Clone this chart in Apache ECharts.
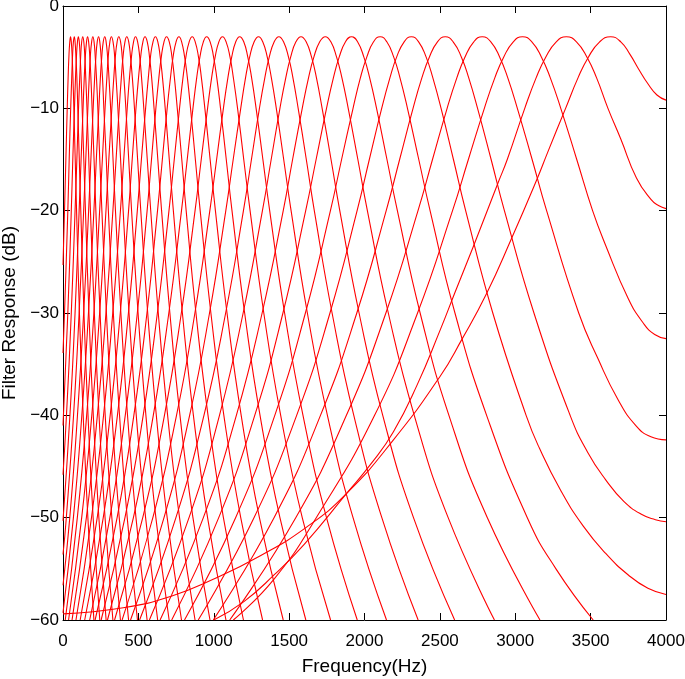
<!DOCTYPE html>
<html>
<head>
<meta charset="utf-8">
<script src="https://cdn.jsdelivr.net/npm/echarts@6/dist/echarts.min.js"></script>
<style>
html,body{margin:0;padding:0;background:#fff;}
#chart{width:685px;height:679px;}
</style>
</head>
<body>
<div id="chart"></div>
<script>
// Peak (centre) frequencies of the 32 filters (Hz)
const centerFreqs = [3633, 3339, 3048, 2781, 2536, 2311, 2104, 1914, 1740, 1579, 1432, 1297, 1172, 1058, 953, 857,
  769, 687, 613, 544, 481, 423, 370, 321, 277, 236, 198, 163, 131, 102, 75, 50];

const xTicks = [0, 500, 1000, 1500, 2000, 2500, 3000, 3500, 4000];
const yTicks = [0, -10, -20, -30, -40, -50, -60];

// Each filter: [frequency Hz, response dB] read/
const ch01 = [[0,-59.4],[400,-58.8],[713,-57.7],[1000,-56.0],[1300,-53.8],[1618,-50.9],[1883,-47.6],[2192,-42.4],[2501,-36.2],[2645,-32.6],[2810,-28.1],[2976,-22.7],[3142,-17.0],[3215,-14.3],[3334,-10],[3417,-7],[3485,-5],[3560,-3.5],[3633,-3],[3700,-3.5],[3760,-4.7],[3820,-6.2],[3880,-7.6],[3940,-8.7],[4000,-9.2]];
const ch02 = [[1000,-60],[1200,-58.2],[1400,-55.6],[1600,-52.6],[1883,-47.6],[2040,-44.8],[2192,-41.6],[2350,-37.0],[2501,-31.7],[2600,-28.0],[2722,-23.5],[2888,-17.2],[2947,-15],[3063,-10],[3139,-7],[3202,-5],[3272,-3.5],[3339,-3],[3406,-3.5],[3476,-5],[3539,-7],[3615,-10],[3700,-13.0],[3804,-16.8],[3900,-18.9],[3950,-19.5],[4000,-19.8]];
const ch03 = [[1130,-60],[1400,-56],[1680,-50],[2067,-40],[2352,-30],[2584,-20],[2689,-15],[2795,-10],[2865,-7],[2923,-5],[2987,-3.5],[3048,-3],[3110,-3.5],[3174,-5],[3232,-7],[3302,-10],[3408,-15],[3513,-20],[3600,-23.4],[3750,-28.6],[3850,-31.0],[3925,-32.1],[4000,-32.5]];
const ch04 = [[1106,-60],[1544,-50],[1880,-40],[2142,-30],[2355,-20],[2451,-15],[2548,-10],[2613,-7],[2666,-5],[2725,-3.5],[2781,-3],[2838,-3.5],[2897,-5],[2950,-7],[3014,-10],[3112,-15],[3208,-20],[3421,-30],[3550,-34.5],[3683,-38.5],[3800,-41.0],[3900,-42.1],[4000,-42.4]];
const ch05 = [[997,-60],[1400,-50],[1708,-40],[1949,-30],[2144,-20],[2233,-15],[2322,-10],[2381,-7],[2430,-5],[2484,-3.5],[2536,-3],[2588,-3.5],[2643,-5],[2691,-7],[2750,-10],[2840,-15],[2928,-20],[3124,-30],[3364,-40],[3480,-43.6],[3600,-46.3],[3720,-48.4],[3840,-49.7],[3930,-50.2],[4000,-50.4]];
const ch06 = [[897,-60],[1267,-50],[1550,-40],[1771,-30],[1951,-20],[2032,-15],[2114,-10],[2169,-7],[2213,-5],[2263,-3.5],[2311,-3],[2359,-3.5],[2409,-5],[2453,-7],[2508,-10],[2590,-15],[2671,-20],[2851,-30],[3072,-40],[3160,-43.2],[3300,-47.3],[3450,-50.8],[3600,-53.5],[3750,-55.6],[3880,-56.9],[4000,-57.5]];
const ch07 = [[806,-60],[1145,-50],[1405,-40],[1608,-30],[1774,-20],[1848,-15],[1924,-10],[1973,-7],[2015,-5],[2060,-3.5],[2104,-3],[2148,-3.5],[2194,-5],[2235,-7],[2285,-10],[2360,-15],[2435,-20],[2600,-30],[2810,-40],[3080,-50],[3270,-55],[3517,-60]];
const ch08 = [[721,-60],[1033,-50],[1272,-40],[1459,-30],[1610,-20],[1679,-15],[1748,-10],[1794,-7],[1832,-5],[1874,-3.5],[1914,-3],[1954,-3.5],[1996,-5],[2034,-7],[2080,-10],[2149,-15],[2218,-20],[2369,-30],[2560,-40],[2815,-50],[3164,-60]];
const ch09 = [[644,-60],[931,-50],[1150,-40],[1321,-30],[1461,-20],[1523,-15],[1587,-10],[1629,-7],[1664,-5],[1703,-3.5],[1740,-3],[1777,-3.5],[1815,-5],[1850,-7],[1892,-10],[1956,-15],[2019,-20],[2158,-30],[2330,-40],[2555,-50],[2862,-60]];
const ch10 = [[573,-60],[836,-50],[1038,-40],[1195,-30],[1323,-20],[1381,-15],[1439,-10],[1478,-7],[1510,-5],[1545,-3.5],[1579,-3],[1613,-3.5],[1649,-5],[1681,-7],[1719,-10],[1778,-15],[1836,-20],[1964,-30],[2121,-40],[2325,-50],[2598,-60]];
const ch11 = [[508,-60],[749,-50],[935,-40],[1079,-30],[1197,-20],[1250,-15],[1303,-10],[1339,-7],[1368,-5],[1401,-3.5],[1432,-3],[1463,-3.5],[1496,-5],[1525,-7],[1560,-10],[1614,-15],[1667,-20],[1785,-30],[1929,-40],[2115,-50],[2356,-60]];
const ch12 = [[448,-60],[670,-50],[840,-40],[972,-30],[1080,-20],[1129,-15],[1179,-10],[1211,-7],[1238,-5],[1268,-3.5],[1297,-3],[1325,-3.5],[1355,-5],[1382,-7],[1415,-10],[1464,-15],[1513,-20],[1621,-30],[1754,-40],[1924,-50],[2146,-60]];
const ch13 = [[392,-60],[596,-50],[753,-40],[875,-30],[974,-20],[1019,-15],[1064,-10],[1094,-7],[1119,-5],[1146,-3.5],[1172,-3],[1199,-3.5],[1226,-5],[1251,-7],[1281,-10],[1326,-15],[1371,-20],[1470,-30],[1592,-40],[1748,-50],[1952,-60]];
const ch14 = [[342,-60],[529,-50],[673,-40],[785,-30],[876,-20],[917,-15],[959,-10],[986,-7],[1009,-5],[1034,-3.5],[1058,-3],[1082,-3.5],[1108,-5],[1130,-7],[1158,-10],[1199,-15],[1241,-20],[1332,-30],[1444,-40],[1587,-50],[1775,-60]];
const ch15 = [[295,-60],[467,-50],[599,-40],[702,-30],[786,-20],[824,-15],[862,-10],[887,-7],[908,-5],[931,-3.5],[953,-3],[976,-3.5],[999,-5],[1020,-7],[1045,-10],[1083,-15],[1121,-20],[1205,-30],[1307,-40],[1439,-50],[1611,-60]];
const ch16 = [[253,-60],[411,-50],[532,-40],[626,-30],[703,-20],[738,-15],[773,-10],[796,-7],[815,-5],[837,-3.5],[857,-3],[877,-3.5],[899,-5],[918,-7],[941,-10],[976,-15],[1011,-20],[1088,-30],[1182,-40],[1303,-50],[1461,-60]];
const ch17 = [[213,-60],[359,-50],[470,-40],[557,-30],[627,-20],[659,-15],[691,-10],[713,-7],[730,-5],[750,-3.5],[769,-3],[787,-3.5],[807,-5],[825,-7],[846,-10],[878,-15],[910,-20],[981,-30],[1067,-40],[1179,-50],[1324,-60]];
const ch18 = [[177,-60],[311,-50],[413,-40],[493,-30],[558,-20],[587,-15],[616,-10],[636,-7],[652,-5],[670,-3.5],[687,-3],[705,-3.5],[723,-5],[739,-7],[758,-10],[788,-15],[817,-20],[882,-30],[962,-40],[1064,-50],[1197,-60]];
const ch19 = [[144,-60],[267,-50],[361,-40],[434,-30],[493,-20],[520,-15],[548,-10],[566,-7],[580,-5],[597,-3.5],[613,-3],[629,-3.5],[645,-5],[660,-7],[678,-10],[705,-15],[732,-20],[792,-30],[865,-40],[959,-50],[1081,-60]];
const ch20 = [[114,-60],[227,-50],[313,-40],[380,-30],[435,-20],[459,-15],[484,-10],[501,-7],[515,-5],[530,-3.5],[544,-3],[559,-3.5],[574,-5],[588,-7],[604,-10],[629,-15],[654,-20],[709,-30],[776,-40],[862,-50],[975,-60]];
const ch21 = [[86,-60],[189,-50],[269,-40],[330,-30],[381,-20],[403,-15],[426,-10],[441,-7],[454,-5],[468,-3.5],[481,-3],[495,-3.5],[509,-5],[521,-7],[536,-10],[559,-15],[582,-20],[632,-30],[694,-40],[773,-50],[876,-60]];
const ch22 = [[60,-60],[155,-50],[228,-40],[285,-30],[331,-20],[352,-15],[373,-10],[387,-7],[398,-5],[411,-3.5],[423,-3],[436,-3.5],[448,-5],[460,-7],[474,-10],[495,-15],[516,-20],[562,-30],[619,-40],[691,-50],[786,-60]];
const ch23 = [[37,-60],[124,-50],[191,-40],[243,-30],[285,-20],[304,-15],[324,-10],[337,-7],[347,-5],[359,-3.5],[370,-3],[382,-3.5],[393,-5],[404,-7],[417,-10],[436,-15],[455,-20],[498,-30],[550,-40],[616,-50],[704,-60]];
const ch24 = [[15,-60],[95,-50],[157,-40],[205,-30],[243,-20],[261,-15],[279,-10],[291,-7],[300,-5],[311,-3.5],[321,-3],[332,-3.5],[343,-5],[352,-7],[364,-10],[382,-15],[399,-20],[438,-30],[486,-40],[548,-50],[628,-60]];
const ch25 = [[0,-59.3],[69,-50],[125,-40],[169,-30],[205,-20],[221,-15],[238,-10],[248,-7],[257,-5],[267,-3.5],[277,-3],[286,-3.5],[296,-5],[305,-7],[316,-10],[332,-15],[348,-20],[384,-30],[428,-40],[484,-50],[558,-60]];
const ch26 = [[0,-56.6],[45,-50],[96,-40],[137,-30],[170,-20],[185,-15],[200,-10],[210,-7],[218,-5],[227,-3.5],[236,-3],[244,-3.5],[253,-5],[262,-7],[271,-10],[287,-15],[301,-20],[334,-30],[375,-40],[426,-50],[494,-60]];
const ch27 = [[0,-53.6],[22,-50],[70,-40],[107,-30],[137,-20],[151,-15],[165,-10],[174,-7],[181,-5],[190,-3.5],[198,-3],[206,-3.5],[214,-5],[222,-7],[231,-10],[244,-15],[258,-20],[288,-30],[325,-40],[373,-50],[435,-60]];
const ch28 = [[0,-50.3],[46,-40],[80,-30],[107,-20],[120,-15],[133,-10],[141,-7],[148,-5],[156,-3.5],[163,-3],[170,-3.5],[178,-5],[185,-7],[193,-10],[206,-15],[218,-20],[246,-30],[280,-40],[324,-50],[381,-60]];
const ch29 = [[0,-45.8],[23,-40],[55,-30],[80,-20],[92,-15],[103,-10],[111,-7],[117,-5],[124,-3.5],[131,-3],[138,-3.5],[145,-5],[151,-7],[159,-10],[171,-15],[182,-20],[208,-30],[239,-40],[279,-50],[331,-60]];
const ch30 = [[0,-41],[32,-30],[55,-20],[65,-15],[76,-10],[83,-7],[89,-5],[96,-3.5],[102,-3],[108,-3.5],[114,-5],[120,-7],[127,-10],[138,-15],[149,-20],[172,-30],[201,-40],[238,-50],[286,-60]];
const ch31 = [[0,-33.9],[10,-30],[32,-20],[41,-15],[51,-10],[58,-7],[63,-5],[69,-3.5],[75,-3],[80,-3.5],[86,-5],[92,-7],[98,-10],[108,-15],[118,-20],[139,-30],[166,-40],[200,-50],[244,-60]];
const ch32 = [[0,-25.3],[10,-20],[19,-15],[28,-10],[34,-7],[39,-5],[45,-3.5],[50,-3],[55,-3.5],[61,-5],[66,-7],[72,-10],[81,-15],[90,-20],[109,-30],[134,-40],[165,-50],[205,-60]];

const channels = [ch01, ch02, ch03, ch04, ch05, ch06, ch07, ch08, ch09, ch10, ch11, ch12, ch13, ch14, ch15, ch16,
  ch17, ch18, ch19, ch20, ch21, ch22, ch23, ch24, ch25, ch26, ch27, ch28, ch29, ch30, ch31, ch32];

const FONT = '"Liberation Sans", Arial, Helvetica, sans-serif';
const minusFmt = v => (v < 0 ? '\u2212' + (-v) : String(v));
const plainFmt = v => String(v);

const chart = echarts.init(document.getElementById('chart'), null, {renderer: 'canvas'});

const baseX = {
  type: 'value', min: xTicks[0], max: xTicks[xTicks.length - 1], interval: 500,
  splitLine: {show: false},
  axisLine: {show: true, onZero: false, lineStyle: {color: '#000', width: 1}},
  axisTick: {show: true, inside: true, length: 7, lineStyle: {color: '#000', width: 1}}
};
const baseY = {
  type: 'value', min: yTicks[yTicks.length - 1], max: yTicks[0], interval: 10,
  splitLine: {show: false},
  axisLine: {show: true, onZero: false, lineStyle: {color: '#000', width: 1}},
  axisTick: {show: true, inside: true, length: 7, lineStyle: {color: '#000', width: 1}}
};

chart.setOption({
  animation: false,
  backgroundColor: '#fff',
  grid: {left: 63, right: 19, top: 6, bottom: 59, containLabel: false, outerBoundsMode: 'none'},
  xAxis: [
    Object.assign({}, baseX, {
      position: 'bottom',
      name: 'Frequency(Hz)', nameLocation: 'middle', nameGap: 37,
      nameTextStyle: {fontFamily: FONT, fontSize: 19, color: '#000'},
      axisLabel: {show: true, margin: 13, fontFamily: FONT, fontSize: 17, color: '#000', formatter: plainFmt, hideOverlap: false}
    }),
    Object.assign({}, baseX, {position: 'top', axisLabel: {show: false}})
  ],
  yAxis: [
    Object.assign({}, baseY, {
      position: 'left',
      name: 'Filter Response (dB)', nameLocation: 'middle', nameGap: 42,
      nameTextStyle: {fontFamily: FONT, fontSize: 19, color: '#000'},
      axisLabel: {show: true, margin: 4, fontFamily: FONT, fontSize: 17, color: '#000', formatter: minusFmt, hideOverlap: false}
    }),
    Object.assign({}, baseY, {position: 'right', axisLabel: {show: false}})
  ],
  series: channels.map((d, i) => ({
    type: 'line',
    name: 'CF ' + centerFreqs[i] + ' Hz',
    xAxisIndex: 0, yAxisIndex: 0,
    data: d,
    smooth: 0.5,
    showSymbol: false,
    symbol: 'none',
    silent: true,
    clip: true,
    lineStyle: {color: '#ff0000', width: 1.1},
    z: 2
  }))
});
</script>
</body>
</html>
